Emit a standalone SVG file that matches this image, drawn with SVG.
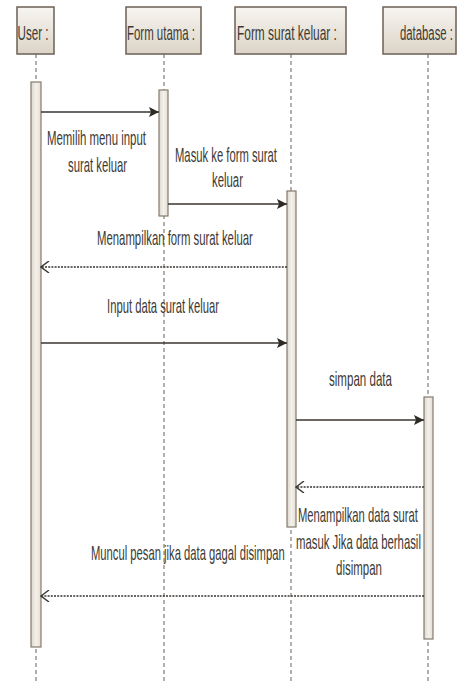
<svg xmlns="http://www.w3.org/2000/svg" width="475" height="684" viewBox="0 0 475 684">
  <style>
    .hdr { fill: url(#hdrFill); stroke: #6b6055; stroke-width: 1.5; }
    .bar { fill: url(#barFill); stroke: #857a6e; stroke-width: 1.2; }
    .life { stroke: #6b6055; stroke-width: 1; stroke-dasharray: 4 3; fill: none; }
    .msg { stroke: #3a3430; stroke-width: 1.6; fill: none; }
    .ret { stroke: #3a3430; stroke-width: 1.6; fill: none; stroke-dasharray: 2 1.2; }
    text { font-family: "Liberation Sans", Arial, sans-serif; font-size: 20px; fill: #3d3a35; }
    .title { font-size: 21px; }
  </style>
  <defs>
    <linearGradient id="hdrFill" x1="0" y1="0" x2="0" y2="1">
      <stop offset="0" stop-color="#f7f5f1"/>
      <stop offset="1" stop-color="#dcd4c7"/>
    </linearGradient>
    <linearGradient id="barFill" x1="0" y1="0" x2="1" y2="0">
      <stop offset="0" stop-color="#ddd6cb"/>
      <stop offset="0.5" stop-color="#f4f1ec"/>
      <stop offset="1" stop-color="#e4ddd3"/>
    </linearGradient>
    <marker id="filled" viewBox="0 0 10 10" refX="10" refY="5" markerWidth="10" markerHeight="10" markerUnits="userSpaceOnUse" orient="auto">
      <path d="M0,0 L10,5 L0,10 L2,5 Z" fill="#2e2a26"/>
    </marker>
    <marker id="open" viewBox="0 0 10 12" refX="9" refY="6" markerWidth="10" markerHeight="12" markerUnits="userSpaceOnUse" orient="auto">
      <path d="M1,0 L9,6 L1,12" fill="none" stroke="#3a3430" stroke-width="1.4"/>
    </marker>
  </defs>

  <rect width="475" height="684" fill="#ffffff"/>

  <!-- lifelines -->
  <g id="lifelines">
    <line class="life" x1="36" y1="54" x2="36" y2="684"/>
    <line class="life" x1="164" y1="54" x2="164" y2="684"/>
    <line class="life" x1="291" y1="54" x2="291" y2="684"/>
    <line class="life" x1="428" y1="54" x2="428" y2="684"/>
  </g>

  <!-- texts are drawn narrow: a horizontal scale in each matrix -->
  <g id="user">
    <rect class="hdr" x="17" y="7" width="37" height="47"/>
    <text class="title" transform="matrix(0.554 0 0 1 17.5 40)">User :</text>
    <rect class="bar" x="31" y="82" width="10" height="565"/>
  </g>

  <g id="form-utama">
    <rect class="hdr" x="126" y="7" width="75" height="47"/>
    <text class="title" transform="matrix(0.545 0 0 1 127 40)">Form utama :</text>
    <rect class="bar" x="159" y="90" width="9" height="126"/>
  </g>

  <g id="form-surat-keluar">
    <rect class="hdr" x="235" y="7" width="111" height="47"/>
    <text class="title" transform="matrix(0.567 0 0 1 237 40)">Form surat keluar :</text>
    <rect class="bar" x="287" y="191" width="9" height="336"/>
  </g>

  <g id="database">
    <rect class="hdr" x="383" y="7" width="73" height="47"/>
    <text class="title" transform="matrix(0.540 0 0 1 400 40)">database :</text>
    <rect class="bar" x="424" y="397" width="9" height="242"/>
  </g>

  <!-- messages -->
  <g id="connectors">
    <line class="msg" x1="41" y1="112" x2="159" y2="112" marker-end="url(#filled)"/>
    <line class="msg" x1="168" y1="204" x2="287" y2="204" marker-end="url(#filled)"/>
    <line class="ret" x1="287" y1="267" x2="41" y2="267" marker-end="url(#open)"/>
    <line class="msg" x1="41" y1="343" x2="287" y2="343" marker-end="url(#filled)"/>
    <line class="msg" x1="296" y1="420" x2="424" y2="420" marker-end="url(#filled)"/>
    <line class="ret" x1="424" y1="487" x2="296" y2="487" marker-end="url(#open)"/>
    <line class="ret" x1="424" y1="596" x2="41" y2="596" marker-end="url(#open)"/>
  </g>

  <!-- message labels -->
  <g id="labels">
    <text transform="matrix(0.571 0 0 1 47 145)">Memilih menu input</text>
    <text transform="matrix(0.565 0 0 1 68 172)">surat keluar</text>
    <text transform="matrix(0.563 0 0 1 175 162)">Masuk ke form surat</text>
    <text transform="matrix(0.569 0 0 1 212 187)">keluar</text>
    <text transform="matrix(0.568 0 0 1 97 245)">Menampilkan form surat keluar</text>
    <text transform="matrix(0.563 0 0 1 107 313)">Input data surat keluar</text>
    <text transform="matrix(0.578 0 0 1 329 386)">simpan data</text>
    <text transform="matrix(0.562 0 0 1 298 522)">Menampilkan data surat</text>
    <text transform="matrix(0.568 0 0 1 296 549)">masuk Jika data berhasil</text>
    <text transform="matrix(0.575 0 0 1 336 575)">disimpan</text>
    <text transform="matrix(0.562 0 0 1 91 560)">Muncul pesan jika data gagal disimpan</text>
  </g>
</svg>
